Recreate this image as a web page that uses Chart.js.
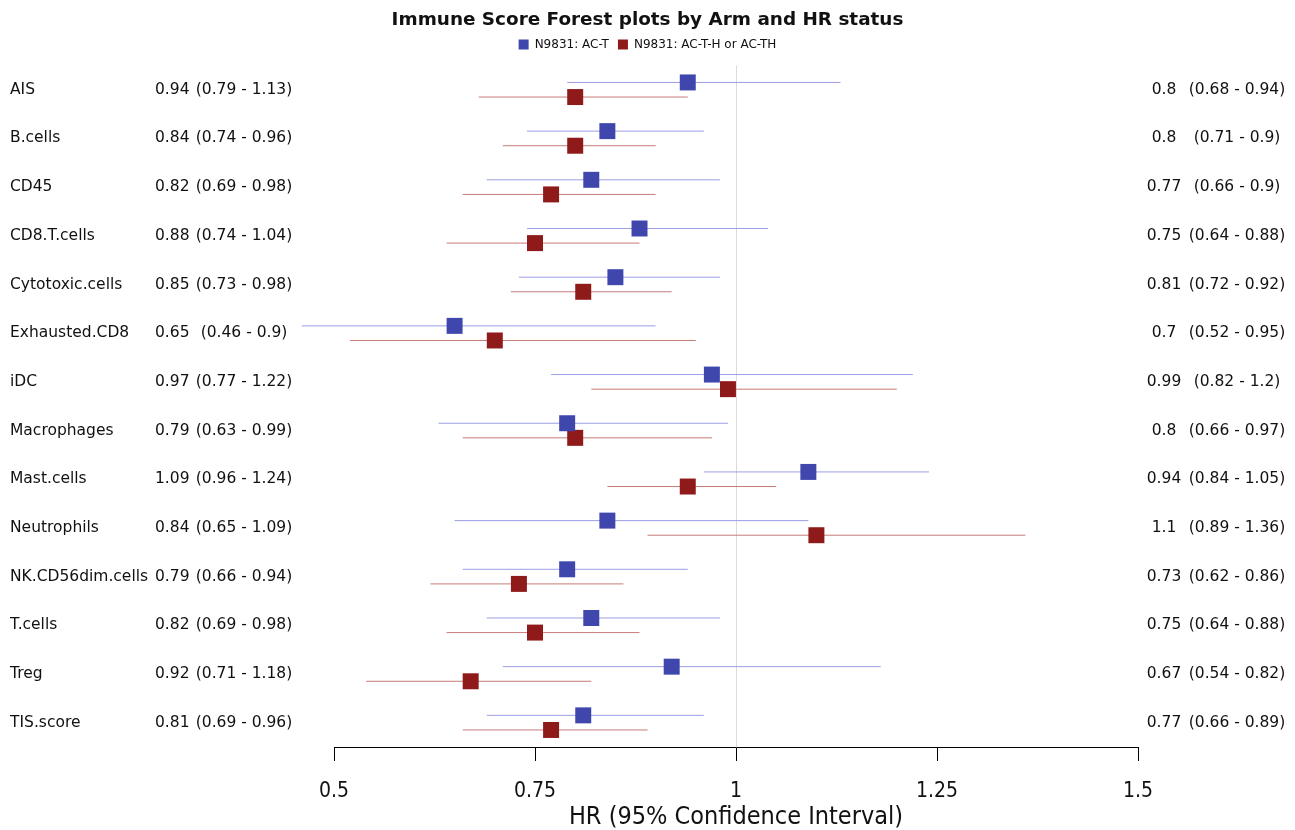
<!DOCTYPE html>
<html>
<head>
<meta charset="utf-8">
<script src="https://cdn.jsdelivr.net/npm/chart.js@4/dist/chart.umd.min.js"></script>
<style>
  body { margin: 0; background: #fff; }
  #wrap { width: 1295px; height: 830px; }
</style>
</head>
<body>
<div id="wrap"><canvas id="forest"></canvas></div>
<script>
// rows, top to bottom
const cellTypes = ['AIS', 'B.cells', 'CD45', 'CD8.T.cells', 'Cytotoxic.cells', 'Exhausted.CD8', 'iDC',
  'Macrophages', 'Mast.cells', 'Neutrophils', 'NK.CD56dim.cells', 'T.cells', 'Treg', 'TIS.score'];

// N9831: AC-T (blue)
const hrACT = [0.94, 0.84, 0.82, 0.88, 0.85, 0.65, 0.97, 0.79, 1.09, 0.84, 0.79, 0.82, 0.92, 0.81];
const loACT = [0.79, 0.74, 0.69, 0.74, 0.73, 0.46, 0.77, 0.63, 0.96, 0.65, 0.66, 0.69, 0.71, 0.69];
const hiACT = [1.13, 0.96, 0.98, 1.04, 0.98, 0.9, 1.22, 0.99, 1.24, 1.09, 0.94, 0.98, 1.18, 0.96];

// N9831: AC-T-H or AC-TH (red)
const hrACTH = [0.8, 0.8, 0.77, 0.75, 0.81, 0.7, 0.99, 0.8, 0.94, 1.1, 0.73, 0.75, 0.67, 0.77];
const loACTH = [0.68, 0.71, 0.66, 0.64, 0.72, 0.52, 0.82, 0.66, 0.84, 0.89, 0.62, 0.64, 0.54, 0.66];
const hiACTH = [0.94, 0.9, 0.9, 0.88, 0.92, 0.95, 1.2, 0.97, 1.05, 1.36, 0.86, 0.88, 0.82, 0.89];

const xTicks = [0.5, 0.75, 1, 1.25, 1.5];

const BLUE = '#3f47ad', BLUE_LINE = '#9a9ee6';
const RED = '#8e1a1a', RED_LINE = '#c87a7a';
const SHIFT = 0.15; // vertical offset of each arm inside its row
const NARROW = '"Liberation Sans Narrow", "DejaVu Sans Condensed", sans-serif';

function ciSegments(lo, hi, shift) {
  const pts = [];
  lo.forEach((v, i) => {
    pts.push({ x: v, y: i + shift }, { x: hi[i], y: i + shift }, { x: hi[i], y: null });
  });
  return pts;
}
function points(hr, shift) {
  return hr.map((v, i) => ({ x: v, y: i + shift }));
}

// text columns left and right of the plot
const sideText = {
  id: 'sideText',
  afterDatasetsDraw(chart) {
    const ctx = chart.ctx, y = chart.scales.y;
    ctx.save();
    ctx.font = '15.5px "DejaVu Sans"';
    ctx.fillStyle = '#111';
    ctx.textBaseline = 'middle';
    cellTypes.forEach((name, i) => {
      const py = y.getPixelForValue(i);
      ctx.textAlign = 'left';
      ctx.fillText(name, 10, py);
      ctx.fillText(String(hrACT[i]), 155, py);
      ctx.textAlign = 'center';
      ctx.fillText('(' + loACT[i] + ' - ' + hiACT[i] + ')', 244, py);
      ctx.fillText(String(hrACTH[i]), 1164, py);
      ctx.fillText('(' + loACTH[i] + ' - ' + hiACTH[i] + ')', 1237, py);
    });
    ctx.restore();
  }
};

new Chart(document.getElementById('forest'), {
  type: 'scatter',
  data: {
    datasets: [
      { type: 'line', label: 'ci1', order: 2, data: ciSegments(loACT, hiACT, -SHIFT), borderColor: BLUE_LINE,
        borderWidth: 1, pointRadius: 0, spanGaps: false, clip: false },
      { type: 'line', label: 'ci2', order: 2, data: ciSegments(loACTH, hiACTH, SHIFT), borderColor: RED_LINE,
        borderWidth: 1, pointRadius: 0, spanGaps: false, clip: false },
      { label: 'N9831: AC-T', order: 1, data: points(hrACT, -SHIFT), pointStyle: 'rect', pointRadius: 11.3,
        backgroundColor: BLUE, borderColor: BLUE, borderWidth: 0, clip: false },
      { label: 'N9831: AC-T-H or AC-TH', order: 1, data: points(hrACTH, SHIFT), pointStyle: 'rect', pointRadius: 11.3,
        backgroundColor: RED, borderColor: RED, borderWidth: 0, clip: false }
    ]
  },
  options: {
    responsive: true,
    maintainAspectRatio: false,
    animation: false,
    events: [],
    layout: { padding: 0 },
    scales: {
      x: {
        type: 'linear', min: 0.5, max: 1.5,
        afterBuildTicks: axis => { axis.ticks = xTicks.map(v => ({ value: v })); },
        afterFit: s => { s.height = 83; },
        grid: {
          drawOnChartArea: true,
          color: c => (c.tick && c.tick.value === 1 ? '#dcdcdc' : 'rgba(0,0,0,0)'),
          tickColor: '#000', tickLength: 14, lineWidth: 1
        },
        border: { display: true, color: '#000', width: 1 },
        ticks: { color: '#111', padding: 20, maxRotation: 0, callback: v => String(v),
          font: { family: NARROW, size: 21, lineHeight: 1 } },
        title: { display: true, text: 'HR (95% Confidence Interval)', color: '#111', padding: { top: 3, bottom: 0 },
          font: { family: NARROW, size: 25, lineHeight: 1 } }
      },
      y: { type: 'linear', position: 'left', min: -0.5, max: 13.5, reverse: true, display: true,
        grid: { display: false }, border: { display: false }, ticks: { display: false },
        afterFit: s => { s.width = 334; } },
      yRight: { type: 'linear', position: 'right', display: true,
        grid: { display: false }, border: { display: false }, ticks: { display: false },
        afterFit: s => { s.width = 157; } }
    },
    plugins: {
      title: { display: true, text: 'Immune Score Forest plots by Arm and HR status', color: '#111',
        font: { family: '"DejaVu Sans"', size: 18.4, weight: 'bold', lineHeight: 1 }, padding: { top: 11, bottom: 0 } },
      // empty spacer between legend and plot
      subtitle: { display: true, text: ' ', weight: 500, font: { size: 1, lineHeight: 1 }, padding: { top: 0, bottom: 4 } },
      legend: {
        display: true,
        labels: {
          filter: item => item.datasetIndex >= 2,
          boxWidth: 10, boxHeight: 10, padding: 9, color: '#111',
          font: { family: '"DejaVu Sans"', size: 12 }
        }
      },
      tooltip: { enabled: false }
    }
  },
  plugins: [sideText]
});
</script>
</body>
</html>
